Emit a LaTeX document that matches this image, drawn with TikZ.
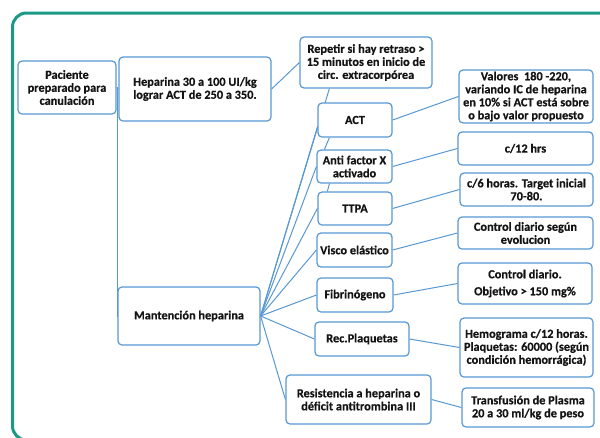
\documentclass[tikz,border=0pt]{standalone}
\usepackage{fontspec}
\setmainfont{Carlito}[FakeBold=0.5]
\usetikzlibrary{calc}
\pgfdeclarelayer{bg}
\pgfsetlayers{bg,main}
\definecolor{framec}{RGB}{26,154,134}
\definecolor{boxb}{RGB}{88,152,210}
\definecolor{txt}{RGB}{20,20,20}
\begin{document}
\begin{tikzpicture}[x=1pt,y=-1pt,
  box/.style={draw=boxb, line width=1.2pt, rounded corners=4pt, fill=white, align=center,
    inner sep=0pt, font=\fontsize{12.3}{13}\selectfont\bfseries, text=txt},
  conn/.style={draw=boxb, line width=1pt}]
\useasboundingbox (0,0) rectangle (600,437);
\begin{scope}
  \clip (0,0) rectangle (600,437);
  \draw[framec, line width=3pt, rounded corners=14pt] (12.5,13) rectangle (640,440);
\end{scope}

% left column
\node[box, minimum width=98pt, minimum height=53pt] (pac) at (67,87.5) {Paciente\\preparado para\\canulación};
\node[box, minimum width=152pt, minimum height=64pt] (hep) at (195,89) {Heparina 30 a 100 UI/kg\\lograr ACT de 250 a 350.};
\node[box, minimum width=142pt, minimum height=58pt] (man) at (189,316) {Mantención heparina};

% middle column
\node[box, minimum width=132pt, minimum height=51pt] (rep) at (366,62.5) {Repetir si hay retraso >\\15 minutos en inicio de\\circ. extracorpórea};
\node[box, minimum width=74pt, minimum height=34pt] (act) at (355,120) {ACT};
\node[box, minimum width=75pt, minimum height=33pt] (afx) at (354.5,166.5) {Anti factor X\\activado};
\node[box, minimum width=74pt, minimum height=33pt] (ttpa) at (355,208.5) {TTPA};
\node[box, minimum width=75pt, minimum height=34pt] (vis) at (354.5,250) {Visco elástico};
\node[box, minimum width=76pt, minimum height=34pt] (fib) at (355,295) {Fibrinógeno};
\node[box, minimum width=94pt, minimum height=34pt] (rec) at (362,339) {Rec.Plaquetas};
\node[box, minimum width=145pt, minimum height=49pt] (res) at (358.5,399.5) {Resistencia a heparina o\\déficit antitrombina III};

% right column
\node[box, minimum width=134pt, minimum height=53pt] (val) at (526,96.5) {Valores\ \ 180 -220,\\variando IC de heparina\\en 10\% si ACT está sobre\\o bajo valor propuesto};
\node[box, minimum width=135pt, minimum height=33pt] (c12) at (525.5,148.5) {c/12 hrs};
\node[box, minimum width=133pt, minimum height=33pt] (c6) at (526.5,189.5) {c/6 horas. Target inicial\\70-80.};
\node[box, minimum width=135pt, minimum height=32pt] (cds) at (525.5,233) {Control diario según\\evolucion};
\node[box, minimum width=134pt, minimum height=41pt] (cdo) at (525,283.5) {Control diario.\\[4pt]Objetivo > 150 mg\%};
\node[box, minimum width=133pt, minimum height=59pt] (hem) at (526.5,347.5) {Hemograma c/12 horas.\\Plaquetas: 60000 (según\\condición hemorrágica)};
\node[box, minimum width=132pt, minimum height=39pt] (tra) at (528,407.5) {Transfusión de Plasma\\20 a 30 ml/kg de peso};

\begin{pgfonlayer}{bg}
  \coordinate (rept) at ($(rep.south west)+(30,0)$);
  \draw[conn] (pac.east) -- (hep.west);
  \draw[conn] (pac.east) -- ++(1,0) |- (man.west);
  \draw[conn] (hep.east) -- (rep.west);
  \draw[conn] (man.east) -- (rept);
  \draw[conn] (man.east) -- ($(act.west)+(0,7)$);
  \draw[conn] (man.east) -- (afx.west);
  \draw[conn] (man.east) -- (ttpa.west);
  \draw[conn] (man.east) -- (vis.west);
  \draw[conn] (man.east) -- (fib.west);
  \draw[conn] (man.east) -- (rec.west);
  \draw[conn] (man.east) -- (res.west);
  \draw[conn] ($(act.south west)+(12,0)$) -- ($(afx.north west)+(8,0)$);
  \draw[conn] ($(afx.south west)+(13,0)$) -- ($(ttpa.north west)+(10,0)$);
  \draw[conn] (act.east) -- (val.west);
  \draw[conn] (afx.east) -- (c12.west);
  \draw[conn] (ttpa.east) -- (c6.west);
  \draw[conn] (vis.east) -- (cds.west);
  \draw[conn] (fib.east) -- (cdo.west);
  \draw[conn] (rec.east) -- (hem.west);
  \draw[conn] (res.east) -- (tra.west);
\end{pgfonlayer}
\end{tikzpicture}
\end{document}
